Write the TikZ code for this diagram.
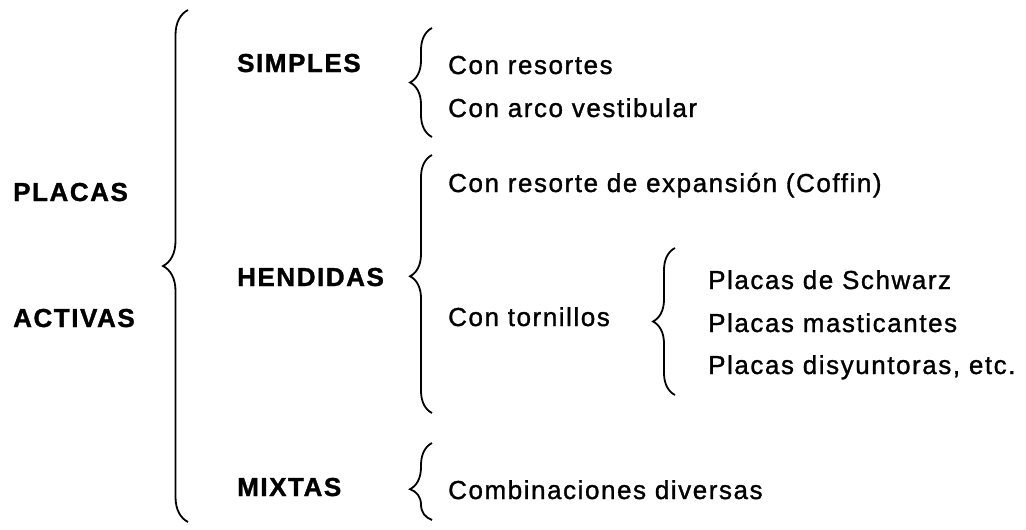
\documentclass[tikz,border=0pt]{standalone}
\usepackage{fontspec}
\setmainfont{Liberation Sans}[LetterSpace=6.0,RawFeature={embolden=1.2}]
\usepackage{tikz}
\usetikzlibrary{decorations.pathreplacing,positioning}

\begin{document}
\begin{tikzpicture}[
  x=1pt,y=1pt,
  every node/.style={inner sep=0pt,anchor=base west,font=\fontsize{26}{30}\selectfont},
  head/.style={font=\fontsize{26}{30}\selectfont\bfseries},
  item/.style={},
  curly/.style={decorate,decoration={brace,amplitude=#1},line width=1.8pt},
  curly/.default=22]
\useasboundingbox (0,0) rectangle (1026,-530);
% left column
\node[head] (placas) at (13,-201) {PLACAS};
\node[head] (activas) at (13,-327) {ACTIVAS};
\draw[curly=25] (188,-522) -- (188,-10);
% second column
\node[head] (simples) at (237,-72) {SIMPLES};
\node[head] (hendidas) at (237,-286) {HENDIDAS};
\node[head] (mixtas) at (237,-496) {MIXTAS};
\draw[curly] (432,-137) -- (432,-28);
\draw[curly,decoration={aspect=0.53}] (432,-413) -- (432,-155);
\draw[curly,decoration={aspect=0.4}] (432,-520) -- (432,-443);
% third column
\node[item] (res) at (448,-74) {Con resortes};
\node[item] (arco) at (448,-117) {Con arco vestibular};
\node[item] (coffin) at (448,-192) {Con resorte de expansión (Coffin)};
\node[item] (torn) at (448,-326) {Con tornillos};
\node[item] (comb) at (448,-499) {Combinaciones diversas};
\draw[curly] (675,-395) -- (675,-248);
% fourth column
\node[item] (schw) at (708,-289) {Placas de Schwarz};
\node[item] (mast) at (708,-332) {Placas masticantes};
\node[item] (disy) at (708,-374) {Placas disyuntoras, etc.};
\end{tikzpicture}
\end{document}
